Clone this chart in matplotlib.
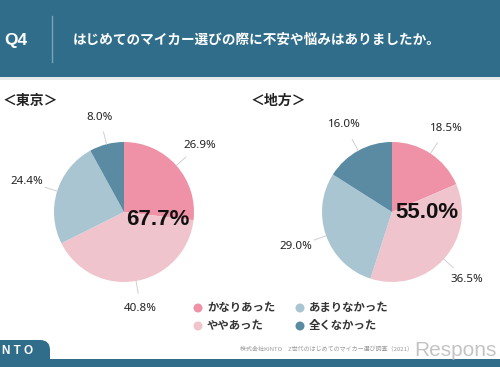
import numpy as np
import matplotlib.pyplot as plt
from matplotlib.patches import Rectangle, FancyBboxPatch, Circle

plt.rcParams['font.family'] = ['Noto Sans CJK JP', 'DejaVu Sans']

# data
categories = ['かなりあった', 'ややあった', 'あまりなかった', '全くなかった']
tokyo = [26.9, 40.8, 24.4, 8.0]
chiho = [18.5, 36.5, 29.0, 16.0]
region_titles = ['＜東京＞', '＜地方＞']
question = 'Q4'
title = 'はじめてのマイカー選びの際に不安や悩みはありましたか。'
source = '株式会社KINTO　Z世代のはじめてのマイカー選び調査（2021）'

colors = ['#ef92a7', '#f0c4cc', '#a9c5d2', '#5a8ba3']
band = '#2f6d8a'
W, H = 500, 367

fig = plt.figure(figsize=(W / 100, H / 100), dpi=100)
bg = fig.add_axes([0, 0, 1, 1])
bg.set_xlim(0, W)
bg.set_ylim(H, 0)
bg.axis('off')

# header
bg.add_patch(Rectangle((0, 0), W, 77, color=band, lw=0))
bg.add_patch(Rectangle((0, 77), W, 3, color='#e6eaec', lw=0))
bg.plot([52, 52], [16, 62], color='#7da2b4', lw=1)
bg.text(4, 40, question, color='white', fontsize=12.5, fontweight='bold',
        family=['Liberation Sans'], va='center', ha='left')
bg.text(73, 40, title, color='white', fontsize=9.8, fontweight='bold',
        va='center', ha='left')

# footer
bg.add_patch(Rectangle((0, 359), W, 10, color=band, lw=0))
bg.add_patch(FancyBboxPatch((-20, 340), 70, 40, boxstyle='round,pad=0,rounding_size=10',
                            color=band, lw=0))
bg.text(2, 351, 'N T O', color='white', fontsize=8.5, fontweight='bold',
        family=['Liberation Sans'], va='center', ha='left')
bg.text(240, 349, source, color='#9a9a9a', fontsize=4.3, va='center', ha='left')
bg.text(414, 350, 'Respons', color='#b5b5b5', fontsize=15, alpha=0.8,
        family=['Liberation Sans'], va='center', ha='left')


def draw_pie(vals, cx, cy, r, name, name_x, big_xy):
    ax = fig.add_axes([(cx - r) / W, 1 - (cy + r) / H, 2 * r / W, 2 * r / H])
    wedges, _ = ax.pie(vals, colors=colors, startangle=90, counterclock=False,
                       radius=1, wedgeprops=dict(linewidth=0))
    ax.set_xlim(-1, 1)
    ax.set_ylim(-1, 1)
    for w, v in zip(wedges, vals):
        a = np.deg2rad((w.theta1 + w.theta2) / 2)
        ca, sa = np.cos(a), np.sin(a)
        ax.plot([1.0 * ca, 1.18 * ca], [1.0 * sa, 1.18 * sa], color='#cfcfcf',
                lw=0.7, clip_on=False)
        d = 1.38 + 0.08 * abs(ca)
        ax.text(d * ca, d * sa, f'{v:.1f}%', ha='center', va='center',
                fontsize=8.3, color='#222222', fontweight='semibold',
                family=['Noto Sans'])
    total = vals[0] + vals[1]
    ax.text(big_xy[0], big_xy[1], f'{total:.1f}%', ha='center', va='center',
            fontsize=16, fontweight='bold', color='#111111', family=['Liberation Sans'])
    bg.text(name_x, 101, name, fontsize=10, fontweight='bold', color='#222222',
            va='center', ha='left')


draw_pie(tokyo, 124, 212, 70, region_titles[0], 3, (0.49, -0.11))
draw_pie(chiho, 392, 212, 70, region_titles[1], 251, (0.5, -0.01))

# legend
pos = [(198, 308), (198, 326), (300, 308), (300, 326)]
for (x, y), c, lab in zip(pos, colors, categories):
    bg.add_patch(Circle((x, y), 4.5, color=c, lw=0))
    bg.text(x + 9, y, lab, fontsize=8.2, fontweight='bold', color='#333333',
            va='center', ha='left')

fig.savefig('out.png', dpi=100, facecolor='white')
